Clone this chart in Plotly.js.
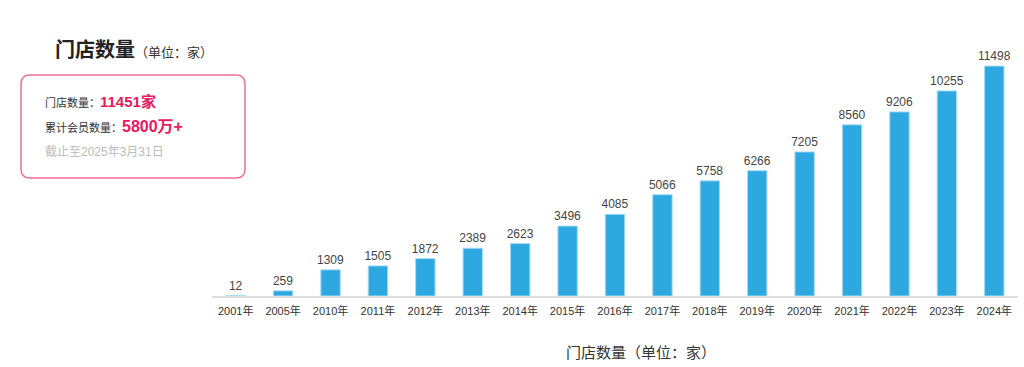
<!DOCTYPE html>
<html><head><meta charset="utf-8">
<script src="https://cdn.plot.ly/plotly-3.0.1.min.js"></script>
<style>html,body{margin:0;padding:0;background:#fff;}#chart{width:1024px;height:367px;}</style>
</head><body><div id="chart"></div>
<script>
const years = ["2001年","2005年","2010年","2011年","2012年","2013年","2014年","2015年","2016年","2017年","2018年","2019年","2020年","2021年","2022年","2023年","2024年"];
const storeCounts = [12,259,1309,1505,1872,2389,2623,3496,4085,5066,5758,6266,7205,8560,9206,10255,11498];
const chartTitle = "门店数量";
const chartUnit = "（单位：家）";
const axisTitle = "门店数量（单位：家）";
const infoLabels = ["门店数量：","累计会员数量："];
const infoValues = ["11451家","5800万+"];
const infoNote = "截止至2025年3月31日";

const W=1024,H=367,L=212,R=6,T=46,B=71;
const pw=W-L-R, ph=H-T-B;
const px=x=>(x-L)/pw, py=y=>(H-B-y)/ph;
const FONT='"Liberation Sans", "Noto Sans CJK SC", sans-serif';

function rrect(x0,y0,x1,y1,r){
  const f=(x,y)=>px(x).toFixed(5)+','+py(y).toFixed(5);
  return 'M'+f(x0+r,y0)+' L'+f(x1-r,y0)+' Q'+f(x1,y0)+' '+f(x1,y0+r)+
    ' L'+f(x1,y1-r)+' Q'+f(x1,y1)+' '+f(x1-r,y1)+' L'+f(x0+r,y1)+
    ' Q'+f(x0,y1)+' '+f(x0,y1-r)+' L'+f(x0,y0+r)+' Q'+f(x0,y0)+' '+f(x0+r,y0)+' Z';
}

const trace={type:'bar',x:years,y:storeCounts,text:storeCounts.map(String),
  textposition:'outside',cliponaxis:false,constraintext:'none',
  textfont:{size:12,color:'#444',family:FONT},
  marker:{color:'#2ea8e0',line:{color:'#a9dcf5',width:1}},
  width:0.41,hoverinfo:'none'};

const annotations=[
 {xref:'paper',yref:'paper',x:px(53),y:py(48),xanchor:'left',yanchor:'middle',showarrow:false,
  text:'<b>'+chartTitle+'</b><span style="font-size:13px;color:#333">'+chartUnit+'</span>',
  font:{size:20,color:'#222',family:'"Noto Sans CJK SC", sans-serif'}},
 {xref:'paper',yref:'paper',x:px(43),y:py(101),xanchor:'left',yanchor:'middle',showarrow:false,
  text:infoLabels[0]+'<span style="font-size:15px;color:#e8185f"><b>'+infoValues[0]+'</b></span>',
  font:{size:11,color:'#333',family:FONT}},
 {xref:'paper',yref:'paper',x:px(43),y:py(127),xanchor:'left',yanchor:'middle',showarrow:false,
  text:infoLabels[1]+'<span style="font-size:16px;color:#e8185f"><b>'+infoValues[1]+'</b></span>',
  font:{size:11,color:'#333',family:FONT}},
 {xref:'paper',yref:'paper',x:px(43),y:py(152),xanchor:'left',yanchor:'middle',showarrow:false,
  text:infoNote,font:{size:12,color:'#bbbbbb',family:FONT}},
 {xref:'paper',yref:'paper',x:px(641),y:py(352),xanchor:'center',yanchor:'middle',showarrow:false,
  text:axisTitle,font:{size:15,color:'#333',family:FONT}}
];

const layout={width:W,height:H,margin:{l:L,r:R,t:T,b:B},
  paper_bgcolor:'#fff',plot_bgcolor:'#fff',showlegend:false,
  font:{family:FONT},
  xaxis:{type:'category',showline:true,linecolor:'#dddddd',linewidth:2,ticks:'',ticklabelstandoff:4,
    tickfont:{size:11,color:'#333',family:FONT},showgrid:false,zeroline:false,fixedrange:true},
  yaxis:{range:[0,12500],visible:false,showgrid:false,zeroline:false,fixedrange:true},
  shapes:[{type:'path',xref:'paper',yref:'paper',path:rrect(21,75,245,178,9),
    line:{color:'#ef6f96',width:1.5},fillcolor:'rgba(0,0,0,0)'}],
  annotations:annotations};

Plotly.newPlot('chart',[trace],layout,{displayModeBar:false,staticPlot:true});
</script></body></html>
